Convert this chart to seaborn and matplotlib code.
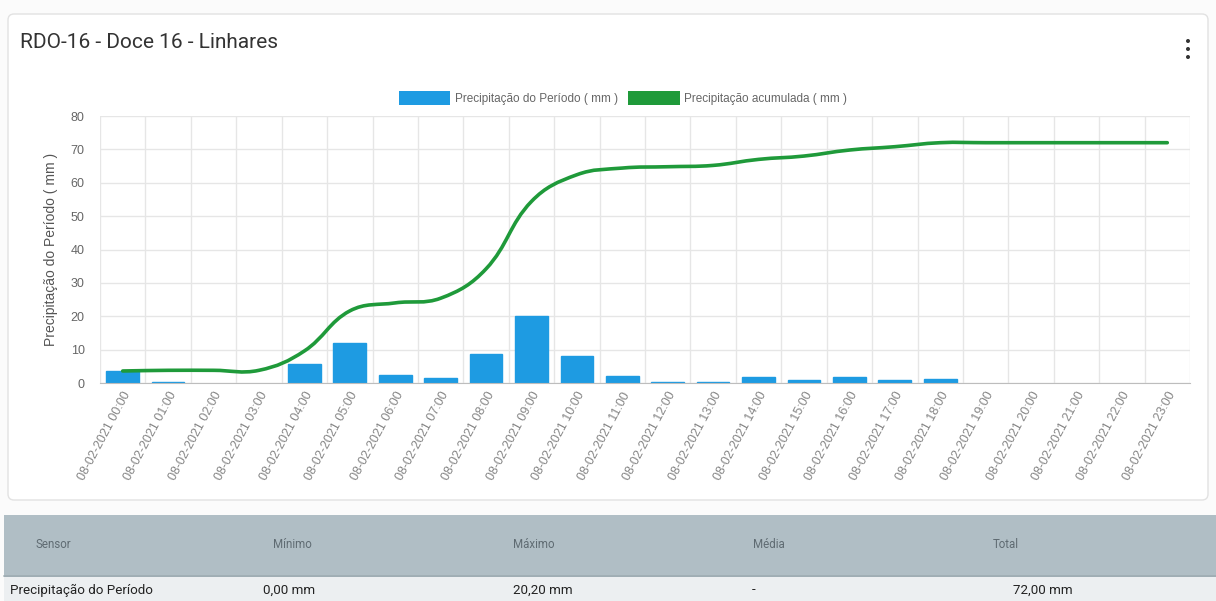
import numpy as np
import matplotlib
matplotlib.use("Agg")
import matplotlib.pyplot as plt
import seaborn as sns
from matplotlib.path import Path
from matplotlib.patches import PathPatch, Patch, FancyBboxPatch, Rectangle, Circle

sns.set_style("white")
plt.rcParams['font.family'] = ['Liberation Sans', 'DejaVu Sans']

# data
hours = ["08-02-2021 %02d:00" % h for h in range(24)]
precip_period = [3.6, 0.2, 0.0, 0.0, 5.8, 12.0, 2.4, 1.4, 8.8, 20.2, 8.0, 2.0,
                 0.4, 0.4, 1.8, 1.0, 1.8, 1.0, 1.2, 0.0, 0.0, 0.0, 0.0, 0.0]
precip_accum = [3.6, 3.8, 3.8, 3.8, 9.6, 21.6, 24.0, 25.4, 34.2, 54.4, 62.4, 64.4,
                64.8, 65.2, 67.0, 68.0, 69.8, 70.8, 72.0, 72.0, 72.0, 72.0, 72.0, 72.0]
table_header = ["Sensor", "Mínimo", "Máximo", "Média", "Total"]
table_row = ["Precipitação do Período", "0,00 mm", "20,20 mm", "-", "72,00 mm"]

blue = "#1e9be2"
green = "#1f9a3a"
grid = "#e6e6e6"
W, H = 1216, 601

fig = plt.figure(figsize=(W / 100, H / 100), dpi=100, facecolor="#fbfbfb")
px = fig.dpi_scale_trans


def fx(x):
    return x / W


def fy(y):
    return 1 - y / H


# card behind the chart
fig.patches.append(FancyBboxPatch((8 / 100, (H - 500) / 100), 1200 / 100, 486 / 100,
                                  boxstyle="round,pad=0,rounding_size=0.06",
                                  transform=px, fc="white", ec="#e2e2e2", lw=1, zorder=-10))
fig.text(fx(20), fy(42), "RDO-16 - Doce 16 - Linhares", fontsize=15, color="#333333",
         family=["Roboto", "DejaVu Sans"], va="center", ha="left")
for dy in (41, 49, 57):
    fig.patches.append(Circle((1188 / 100, (H - dy) / 100), 0.02, transform=px,
                              fc="#333333", ec="none"))

ax = fig.add_axes([fx(100), fy(383), (1190 - 100) / W, (383 - 116) / H])
ax.set_zorder(5)
ax.set_facecolor("none")

sns.barplot(x=hours, y=precip_period, color=blue, saturation=1, width=0.72, ax=ax, zorder=3,
            edgecolor=blue, linewidth=1)
# no outline on empty hours
for bar in ax.patches:
    if bar.get_height() == 0:
        bar.set_linewidth(0)

# smooth cumulative line (bezier like chart.js, tension 0.4)
xs = np.arange(len(precip_accum), dtype=float)
ys = np.array(precip_accum, dtype=float)
sx, sy = 45.4, 3.34
t = 0.4
cprev, cnext = [], []
for i in range(len(xs)):
    p0 = (xs[max(i - 1, 0)], ys[max(i - 1, 0)])
    p1 = (xs[i], ys[i])
    p2 = (xs[min(i + 1, len(xs) - 1)], ys[min(i + 1, len(xs) - 1)])
    d01 = np.hypot((p1[0] - p0[0]) * sx, (p1[1] - p0[1]) * sy)
    d12 = np.hypot((p2[0] - p1[0]) * sx, (p2[1] - p1[1]) * sy)
    tot = d01 + d12
    s01 = d01 / tot if tot else 0
    s12 = d12 / tot if tot else 0
    fa, fb = t * s01, t * s12
    cprev.append((p1[0] - fa * (p2[0] - p0[0]), p1[1] - fa * (p2[1] - p0[1])))
    cnext.append((p1[0] + fb * (p2[0] - p0[0]), p1[1] + fb * (p2[1] - p0[1])))
verts = [(xs[0], ys[0])]
codes = [Path.MOVETO]
for i in range(len(xs) - 1):
    verts += [cnext[i], cprev[i + 1], (xs[i + 1], ys[i + 1])]
    codes += [Path.CURVE4] * 3
ax.add_patch(PathPatch(Path(verts, codes), fill=False, ec=green, lw=2.6, zorder=4,
                       capstyle="round", joinstyle="round"))

ax.set_xlim(-0.5, 23.5)
ax.set_ylim(0, 80)
ax.set_yticks(range(0, 81, 10))
ax.set_xticks(np.arange(-0.5, 24, 1), minor=True)
ax.grid(axis="y", color=grid, lw=1, zorder=0)
ax.grid(axis="x", which="minor", color=grid, lw=1, zorder=0)
ax.tick_params(axis="x", which="major", length=0, pad=5, labelsize=9, labelcolor="#858585")
ax.tick_params(axis="x", which="minor", length=9, color=grid, width=1)
ax.tick_params(axis="y", length=9, color=grid, width=1, pad=2, labelsize=9, labelcolor="#666666")
plt.setp(ax.get_xticklabels(), rotation=62, ha="right", rotation_mode="anchor")
for s in ["top", "right", "left"]:
    ax.spines[s].set_visible(False)
ax.spines["bottom"].set_color("#bdbdbd")
ax.spines["bottom"].set_zorder(5)
ax.set_xlabel("")
ax.set_ylabel("Precipitação do Período ( mm )", fontsize=10, color="#555555", labelpad=9)

handles = [Patch(fc=blue, ec="none"), Patch(fc=green, ec="none")]
ax.legend(handles, ["Precipitação do Período ( mm )", "Precipitação acumulada ( mm )"],
          loc="center", bbox_to_anchor=(fx(623), fy(98)), bbox_transform=fig.transFigure,
          ncol=2, frameon=False, fontsize=8.5, handlelength=4.4, handleheight=1.5,
          handletextpad=0.4, columnspacing=0.8, labelcolor="#666666")

# summary table under the chart
fig.patches.append(Rectangle((fx(4), fy(575)), 1 - fx(4), (575 - 515) / H,
                             transform=fig.transFigure, fc="#b0bec5", ec="none", zorder=-10))
fig.patches.append(Rectangle((fx(4), 0), 1 - fx(4), (H - 576) / H,
                             transform=fig.transFigure, fc="#eceff1", ec="none", zorder=-10))
fig.lines.append(plt.Line2D([fx(4), 1], [fy(575.5), fy(575.5)], transform=fig.transFigure,
                            color="#90a0a8", lw=1.2, zorder=-9))
head_x = [35, 273, 513, 753, 993]
row_x = [10, 263, 513, 752, 1013]
for lab, x in zip(table_header, head_x):
    fig.text(fx(x), fy(544), lab, fontsize=8.3, color="#5f6b72", va="center",
             family=["Roboto", "DejaVu Sans"])
for lab, x in zip(table_row, row_x):
    fig.text(fx(x), fy(590), lab, fontsize=9.6, color="#222222", va="center",
             family=["Roboto", "DejaVu Sans"])

fig.savefig("out.png", dpi=100, facecolor=fig.get_facecolor())
